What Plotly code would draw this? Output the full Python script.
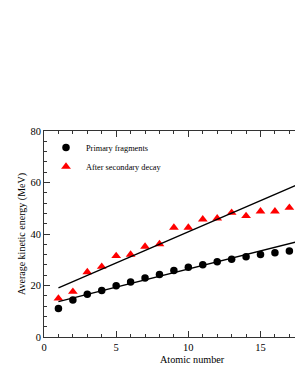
import plotly.graph_objects as go
import numpy as np

# Data
atomic_number = [1, 2, 3, 4, 5, 6, 7, 8, 9, 10, 11, 12, 13, 14, 15, 16, 17]
primary_ke = [11.1, 14.4, 16.6, 18.1, 19.9, 21.4, 22.9, 24.3, 25.8, 27.1, 28.1, 29.2, 30.2, 31.2, 32.0, 32.7, 33.4]
secondary_ke = [15.0, 17.6, 25.2, 27.3, 31.5, 32.0, 35.1, 36.1, 42.5, 42.5, 45.7, 46.1, 48.3, 47.0, 48.8, 48.8, 50.2]

# Linear fits (intercept, slope) and fit range
primary_fit = (12.29, 1.41)
secondary_fit = (16.68, 2.42)
fit_range = [1, 18]

x_ticks = [0, 5, 10, 15]
y_ticks = [0, 20, 40, 60, 80]

FONT = "Liberation Serif"

fit_x = np.array(fit_range, dtype=float)

fig = go.Figure()
fig.add_trace(go.Scatter(
    x=atomic_number, y=primary_ke, mode="markers", name="Primary fragments",
    marker=dict(symbol="circle", size=7.5, color="black"),
))
fig.add_trace(go.Scatter(
    x=atomic_number, y=secondary_ke, mode="markers", name="After secondary decay",
    marker=dict(symbol="triangle-up", size=8.5, color="#ff0000"),
))
fig.add_trace(go.Scatter(
    x=fit_x, y=primary_fit[0] + primary_fit[1] * fit_x, mode="lines",
    line=dict(color="black", width=1.3), showlegend=False, hoverinfo="skip",
))
fig.add_trace(go.Scatter(
    x=fit_x, y=secondary_fit[0] + secondary_fit[1] * fit_x, mode="lines",
    line=dict(color="black", width=1.3), showlegend=False, hoverinfo="skip",
))

fig.update_layout(
    width=295, height=382,
    margin=dict(l=44, r=0, t=131, b=45, autoexpand=False),
    paper_bgcolor="white", plot_bgcolor="white",
    font=dict(family=FONT, size=10, color="black"),
    legend=dict(
        x=0.008, y=0.99, xanchor="left", yanchor="top",
        bgcolor="rgba(0,0,0,0)", font=dict(family=FONT, size=8.3, color="black"),
        itemwidth=30, tracegroupgap=0,
    ),
    xaxis=dict(
        range=[0, 17.39], tickvals=x_ticks, ticktext=[str(v) for v in x_ticks],
        ticks="inside", ticklen=6, tickcolor="#333", showline=True, linecolor="#333",
        linewidth=1, mirror="ticks", showgrid=False, zeroline=False, automargin=False,
        tickfont=dict(family=FONT, size=10.5),
        minor=dict(dtick=1, ticks="inside", ticklen=3, tickcolor="#333", showgrid=False),
    ),
    yaxis=dict(
        range=[0, 80], tickvals=y_ticks, ticktext=[str(v) for v in y_ticks],
        ticks="inside", ticklen=6, tickcolor="#333", showline=True, linecolor="#333",
        linewidth=1, mirror=False, showgrid=False, zeroline=False, automargin=False,
        tickfont=dict(family=FONT, size=10.5),
        title=dict(text="Average kinetic energy (MeV)", font=dict(family=FONT, size=10), standoff=2),
        minor=dict(dtick=4, ticks="inside", ticklen=3, tickcolor="#333", showgrid=False),
    ),
    annotations=[dict(
        text="Atomic number", xref="paper", yref="paper", x=0.59, y=0,
        xanchor="center", yanchor="top", yshift=-14.5, showarrow=False,
        font=dict(family=FONT, size=10.2, color="black"),
    )],
)

fig.write_html(
    "out.html",
    config={"displayModeBar": False},
    post_script="document.body.style.margin='0';document.body.style.overflow='hidden';",
)
